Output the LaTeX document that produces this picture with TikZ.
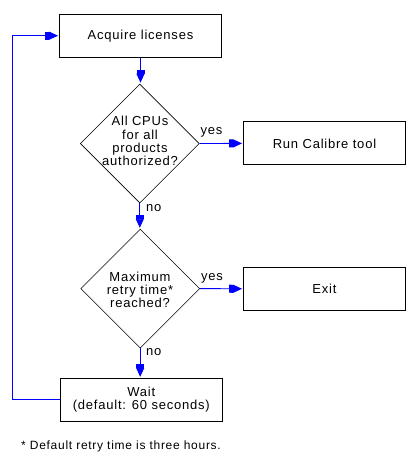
\documentclass[tikz,border=0pt]{standalone}
\usepackage{fontspec}
\setmainfont{Liberation Sans}[LetterSpace=6]
\usetikzlibrary{shapes.geometric,arrows.meta}
\definecolor{flowblue}{RGB}{0,0,255}
\begin{document}
\begin{tikzpicture}[x=1pt,y=-1pt,
  every node/.style={font=\fontsize{13pt}{13.2pt}\selectfont},
  box/.style={draw=black,line width=0.9pt,rectangle,minimum width=162pt,minimum height=43pt,inner sep=0pt,align=center},
  decision/.style={draw=black,line width=0.6pt,diamond,minimum width=119pt,minimum height=119pt,inner sep=0pt},
  dtext/.style={align=center,inner sep=0pt},
  flow/.style={draw=flowblue,line width=0.9pt,-{Rectangle[length=4pt,width=8pt,sep=0pt]Triangle[length=9pt,width=8pt,sep=0pt]},shorten >=1pt},
  lbl/.style={inner sep=0pt}
]
\useasboundingbox (0,0) rectangle (415,461);
\node[box] (acq) at (140.5,35.7) {Acquire licenses};
\node[decision] (d1) at (139.8,143.5) {};
\node[dtext] (t1) at (140,141) {All CPUs\\for all\\products\\authorized?};
\node[box] (run) at (324.5,143.4) {Run Calibre tool};
\node[decision] (d2) at (140.2,288.6) {};
\node[dtext] (t2) at (140,290) {Maximum\\retry time*\\reached?};
\node[box] (exit) at (324.5,288.8) {Exit};
\node[box] (wait) at (141.3,399.8) {Wait\\(default: 60 seconds)};
\coordinate (lp) at (12.3,35.7);

\draw[flow] (acq.south) -- (acq.south |- d1.north);
\draw[flow] (d1.east) -- (run.west);
\draw[flow] (d1.south) -- (d1.south |- d2.north);
\draw[flow] (d2.east) -- (exit.west);
\draw[flow] (d2.south) -- (d2.south |- wait.north);
\draw[flow] (wait.west) -| (lp) -- (acq.west);

\node[lbl] (y1) at (211.5,132) {yes};
\node[lbl,anchor=west] (n1) at (146,208) {no};
\node[lbl] (y2) at (212,278.5) {yes};
\node[lbl,anchor=west] (n2) at (146,352.5) {no};
\node[lbl,anchor=west,font=\fontsize{12pt}{13pt}\selectfont] (fn) at (21,446.5) {* Default retry time is three hours.};
\end{tikzpicture}
\end{document}
